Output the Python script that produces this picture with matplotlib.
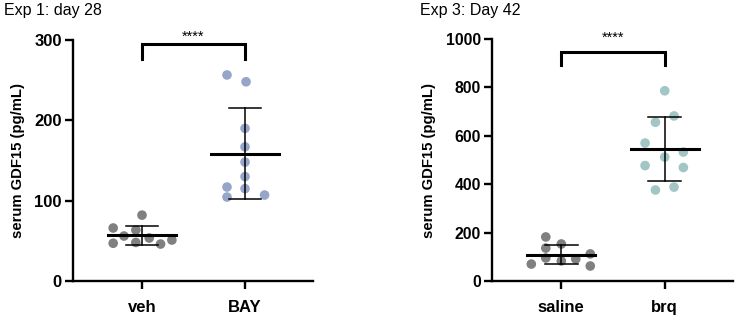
import numpy as np
import matplotlib
matplotlib.use('Agg')
import matplotlib.pyplot as plt

plt.rcParams['font.family'] = ['Liberation Sans', 'DejaVu Sans']

# Exp 1: day 28
exp1_groups = ['veh', 'BAY']
veh_vals = [82, 66, 63.5, 56, 53.5, 47, 48, 51, 46]
bay_vals = [256.5, 248, 190, 167, 148, 130, 117, 115, 104.5, 107]
# Exp 3: day 42
exp3_groups = ['saline', 'brq']
saline_vals = [182, 153, 136, 95, 83, 91, 112, 70, 62]
brq_vals = [786, 682, 656, 570, 533, 512, 477, 469, 376, 388]

# horizontal scatter of the dots inside each column
veh_jit = [0, -0.28, -0.06, -0.175, 0.07, -0.28, -0.06, 0.29, 0.18]
bay_jit = [-0.175, 0.01, 0, 0, 0, 0, -0.175, 0, -0.175, 0.19]
saline_jit = [-0.15, 0, -0.15, -0.15, 0, 0.14, 0.28, -0.29, 0.28]
brq_jit = [0, 0.09, -0.09, -0.19, 0.18, 0, -0.19, 0.18, -0.09, 0.09]

grey = '#808080'
blue = '#97A6C8'
teal = '#A2C5C5'


def column(ax, x, vals, jit, color):
    vals = np.array(vals)
    ax.scatter(x + np.array(jit), vals, s=48, color=color, edgecolors='none', zorder=2)
    m = vals.mean()
    sd = vals.std(ddof=1)
    ax.plot([x - 0.33, x + 0.33], [m, m], color='black', lw=2.2, zorder=3)
    ax.plot([x, x], [m - sd, m + sd], color='black', lw=1.1, zorder=3)
    for y in (m - sd, m + sd):
        ax.plot([x - 0.16, x + 0.16], [y, y], color='black', lw=1.1, zorder=3)


def panel(rect, groups, data, jits, colors, ymax, step, bracket, star_y, tick_fs,
          title, title_x):
    ax = fig.add_axes(rect)
    for i, (vals, jit, c) in enumerate(zip(data, jits, colors)):
        column(ax, i, vals, jit, c)
    ax.set_xlim(-0.67, 1.66)
    ax.set_ylim(0, ymax)
    ax.set_yticks(np.arange(0, ymax + 1, step))
    ax.set_xticks([0, 1])
    ax.set_xticklabels(groups)
    for s in ('top', 'right'):
        ax.spines[s].set_visible(False)
    for s in ('left', 'bottom'):
        ax.spines[s].set_linewidth(1.7)
    ax.tick_params(axis='both', width=1.7, length=6, labelsize=tick_fs, pad=2)
    ax.tick_params(axis='x', labelsize=12, pad=8)
    for lab in ax.get_xticklabels() + ax.get_yticklabels():
        lab.set_fontweight('bold')
    ax.set_ylabel('serum GDF15 (pg/mL)', fontsize=10.7, fontweight='bold', labelpad=7)
    y_top, y_end = bracket
    ax.plot([0, 0, 1, 1], [y_end, y_top, y_top, y_end], color='black', lw=2.2,
            clip_on=False, solid_joinstyle='miter')
    ax.text(0.5, star_y, '****', ha='center', va='baseline', fontsize=10.5,
            clip_on=False)
    fig.text(title_x, 1 - 15 / 319, title, fontsize=11.5, ha='left', va='baseline')
    return ax


fig = plt.figure(figsize=(7.39, 3.19), dpi=100)

panel([73 / 739, 38 / 319, 240 / 739, 241 / 319], exp1_groups,
      [veh_vals, bay_vals], [veh_jit, bay_jit], [grey, blue],
      300, 100, (295, 276), 299, 12, 'Exp 1: day 28', 4 / 739)
panel([492 / 739, 38 / 319, 241 / 739, 242 / 319], exp3_groups,
      [saline_vals, brq_vals], [saline_jit, brq_jit], [grey, teal],
      1000, 200, (945, 892), 988, 11.3, 'Exp 3: Day 42', 420 / 739)

fig.savefig('out.png', dpi=100)
